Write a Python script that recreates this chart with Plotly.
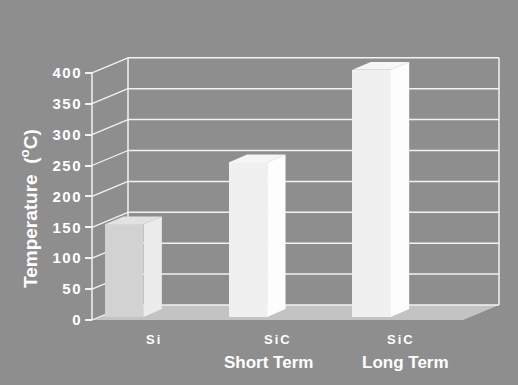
import plotly.graph_objects as go

# ---- data ----
CATEGORIES_TOP = ["Si", "SiC", "SiC"]
CATEGORIES_BOTTOM = ["", "Short Term", "Long Term"]
VALUES = [150, 250, 400]
Y_TICKS = [0, 50, 100, 150, 200, 250, 300, 350, 400]
Y_TITLE = "Temperature  (<sup>o</sup>C)"

# ---- styling / geometry ----
W, H = 518, 385
BG = "#8e8e8e"
GRID = "#f2f2f2"
FLOOR = "#c3c3c3"
FRONT_COLORS = ["#d2d2d2", "#f0f0f0", "#f0f0f0"]
SIDE_COLORS = ["#ececec", "#fdfdfd", "#fdfdfd"]
TOP_COLORS = ["#e2e2e2", "#f6f6f6", "#f6f6f6"]
BOTTOM_XSHIFT = [0, -9, 4]

X0_PX, XPU = 92.0, 123.67     # pixel of x=-0.5, px per x unit
Y0_PX, YPU = 320.0, 0.618     # pixel of y=0, px per y unit
PL, PR, PT, PB = 86, 506, 52, 324   # plot area in pixels

def px_x(px):
    return -0.5 + (px - X0_PX) / XPU

def px_y(py):
    return (Y0_PX - py) / YPU

x_range = [px_x(PL), px_x(PR)]
y_range = [px_y(PB), px_y(PT)]

def paper_x(px):
    return (px - PL) / (PR - PL)

def paper_y(py):
    return (PB - py) / (PB - PT)

def spaced(text, px):
    return f"<span style='letter-spacing:{px}px'>{text}</span>"

DDX, DDY = 36 / XPU, 15 / YPU        # full depth offset (data units)
SDX, SDY = 18.4 / XPU, 7.8 / YPU     # bar depth offset
BAR_W, BAR_OFF, BASE = 0.311, -0.395, 5

xs = list(range(len(VALUES)))

fig = go.Figure()
fig.add_trace(go.Bar(
    x=xs, y=VALUES, base=BASE, width=BAR_W, offset=BAR_OFF,
    marker=dict(color=FRONT_COLORS, line=dict(width=0)),
    hoverinfo="skip", showlegend=False,
))

shapes = []
left, right = -0.5, len(VALUES) - 0.5
ymax = Y_TICKS[-1]

# floor
shapes.append(dict(
    type="path", xref="x", yref="y", layer="below",
    path=f"M {left},0 L {right},0 L {right+DDX},{DDY} L {left+DDX},{DDY} Z",
    fillcolor=FLOOR, line=dict(width=0),
))
# back wall gridlines and side wall lines
for v in Y_TICKS:
    shapes.append(dict(type="line", xref="x", yref="y", layer="below",
                       x0=left + DDX, x1=right + DDX, y0=v + DDY, y1=v + DDY,
                       line=dict(color=GRID, width=1.5)))
    shapes.append(dict(type="line", xref="x", yref="y", layer="below",
                       x0=left, x1=left + DDX, y0=v, y1=v + DDY,
                       line=dict(color=GRID, width=1.3)))
# back wall vertical edges
for xv in (left + DDX, right + DDX):
    shapes.append(dict(type="line", xref="x", yref="y", layer="below",
                       x0=xv, x1=xv, y0=DDY, y1=ymax + DDY,
                       line=dict(color=GRID, width=1.5)))
# front axis line
shapes.append(dict(type="line", xref="x", yref="y", layer="below",
                   x0=left, x1=left, y0=0, y1=ymax,
                   line=dict(color=GRID, width=1.5)))

# bar side and top faces
for i, v in enumerate(VALUES):
    l = i + BAR_OFF
    r = l + BAR_W
    top = BASE + v
    shapes.append(dict(
        type="path", xref="x", yref="y", layer="above",
        path=f"M {r},{BASE} L {r+SDX},{BASE+SDY} L {r+SDX},{top+SDY} L {r},{top} Z",
        fillcolor=SIDE_COLORS[i], line=dict(width=0),
    ))
    shapes.append(dict(
        type="path", xref="x", yref="y", layer="above",
        path=f"M {l},{top} L {l+SDX},{top+SDY} L {r+SDX},{top+SDY} L {r},{top} Z",
        fillcolor=TOP_COLORS[i], line=dict(width=0),
    ))

annotations = []
FONT = "Liberation Sans, Arial, sans-serif"
for i in xs:
    annotations.append(dict(
        x=i, xref="x", y=paper_y(339), yref="paper", text=spaced(CATEGORIES_TOP[i], 2),
        showarrow=False, font=dict(family=FONT, size=13, color="white", weight="bold"),
        xanchor="center", yanchor="middle"))
    if CATEGORIES_BOTTOM[i]:
        annotations.append(dict(
            x=i, xref="x", y=paper_y(362), yref="paper", text=CATEGORIES_BOTTOM[i],
            xshift=BOTTOM_XSHIFT[i],
            showarrow=False, font=dict(family=FONT, size=17, color="white", weight="bold"),
            xanchor="center", yanchor="middle"))
annotations.append(dict(
    x=paper_x(29), xref="paper", y=paper_y(209), yref="paper", text=Y_TITLE,
    textangle=-90, showarrow=False,
    font=dict(family=FONT, size=19, color="white", weight="bold"),
    xanchor="center", yanchor="middle"))

fig.update_layout(
    width=W, height=H,
    margin=dict(l=PL, r=W - PR, t=PT, b=H - PB, pad=0),
    paper_bgcolor=BG, plot_bgcolor=BG,
    xaxis=dict(range=x_range, showgrid=False, zeroline=False, showline=False,
               showticklabels=False, ticks="", fixedrange=True),
    yaxis=dict(range=y_range, anchor="free", position=paper_x(X0_PX),
               showgrid=False, zeroline=False, showline=False,
               tickvals=Y_TICKS, ticktext=[spaced(str(t), 1.5) for t in Y_TICKS],
               ticks="outside", ticklen=7, tickwidth=1.5, tickcolor=GRID,
               tickfont=dict(family=FONT, size=15, color="white", weight="bold"),
               fixedrange=True),
    shapes=shapes, annotations=annotations,
    bargap=0, showlegend=False,
)

fig.write_html("out.html")
